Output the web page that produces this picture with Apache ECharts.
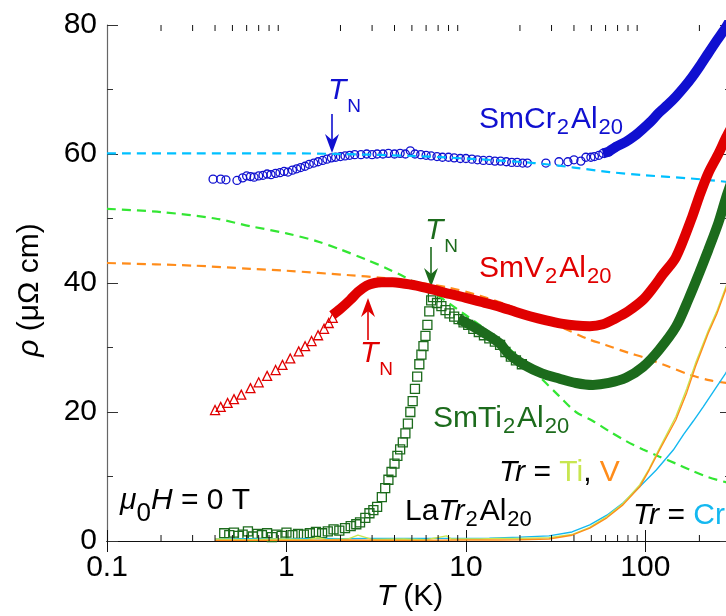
<!DOCTYPE html>
<html>
<head>
<meta charset="utf-8">
<script src="https://cdn.jsdelivr.net/npm/echarts@6/dist/echarts.min.js"></script>
<style>
  html, body { margin: 0; padding: 0; background: #fff; }
  #chart { width: 726px; height: 616px; }
</style>
</head>
<body>
<div id="chart"></div>
<script>
// ---- data (T in K, rho in µΩ cm) ----
const xMajorLabels = ['0.1', '1', '10', '100'];
const xMinorTicks = [0.2, 0.3, 0.4, 0.5, 0.6, 0.7, 0.8, 0.9, 2, 3, 4, 5, 6, 7, 8, 9,
  20, 30, 40, 50, 60, 70, 80, 90, 200];

// SmCr2Al20 (circles)
const crLowT = [0.39, 0.43, 0.46, 0.53, 0.57, 0.60, 0.63, 0.66, 0.70, 0.74, 0.78, 0.82, 0.87, 0.92, 0.97, 1.02,
  1.08, 1.14, 1.20, 1.27, 1.34, 1.42, 1.50, 1.59, 1.68, 1.78, 1.88, 2.0, 2.12, 2.25, 2.4, 2.6, 2.8, 3.0, 3.2,
  3.45, 3.7, 4.0, 4.3, 4.6, 4.9, 5.2, 5.6, 6.0, 6.4, 6.9, 7.4, 8.0, 8.6, 9.3, 10, 10.8, 11.6, 12.5, 13.5,
  14.5, 15.6, 16.8, 18, 19.3, 20.7, 22];
const crLowRho = [56.1, 56.1, 56.0, 55.9, 56.3, 56.6, 56.5, 56.4, 56.6, 56.7, 56.9, 56.8, 57.0, 57.1, 57.3, 57.2,
  57.5, 57.7, 57.9, 58.1, 58.4, 58.6, 58.8, 59.0, 59.2, 59.4, 59.5, 59.6, 59.7, 59.8, 59.9, 59.9, 60.0, 59.9, 60.0,
  60.0, 60.1, 60.0, 60.1, 60.0, 60.5, 60.0, 59.9, 59.8, 59.7, 59.6, 59.5, 59.5, 59.4, 59.3, 59.3, 59.2, 59.1, 59.0, 59.0,
  58.9, 58.9, 58.8, 58.7, 58.7, 58.6, 58.6];
const crMidT = [27.9, 33, 37, 40, 43.7, 46.6, 49.7, 52, 55.1, 58, 62.6, 68.5];
const crMidRho = [58.6, 58.8, 58.8, 59.1, 58.9, 59.5, 59.5, 59.6, 59.8, 60.1, 60.3, 61.1];
const crHighT = [58, 62.6, 68.5, 78, 88, 97, 108, 119, 133, 148, 165, 182, 202, 224, 250, 282, 300];
const crHighRho = [60.1, 60.4, 61.1, 61.9, 62.9, 63.9, 65.1, 66.4, 67.6, 68.9, 70.4, 71.9, 73.7, 75.6, 77.6, 79.7, 81.0];

// SmV2Al20 (triangles, then dense band)
const vLowT = [0.40, 0.43, 0.47, 0.51, 0.56, 0.63, 0.70, 0.78, 0.87, 0.95, 1.05, 1.17, 1.27, 1.38, 1.50, 1.62, 1.72, 1.81];
const vLowRho = [20.3, 20.8, 21.4, 22.0, 22.7, 23.7, 24.6, 25.6, 26.5, 27.3, 28.3, 29.4, 30.2, 31.0, 31.9, 32.9, 33.8, 34.6];
const vHighT = [1.8, 2.0, 2.27, 2.5, 2.8, 3.1, 3.4, 3.9, 4.3, 5.3, 6.5, 8.1, 10, 12.5, 15.5, 19, 23, 28, 34, 41, 49,
  58, 68, 80, 97, 110, 125, 148, 182, 200, 224, 255, 282, 300];
const vHighRho = [35.0, 36.0, 37.4, 38.6, 39.6, 40.0, 40.1, 40.1, 40.0, 39.6, 39.0, 38.3, 37.7, 37.0, 36.3, 35.5, 34.8,
  34.2, 33.7, 33.4, 33.3, 33.6, 34.5, 35.6, 37.4, 39.2, 41.3, 44.0, 50.2, 53.5, 57.0, 60.0, 62.6, 64.0];

// SmTi2Al20 (squares, then dense band)
const tiSqT = [0.45, 0.48, 0.51, 0.54, 0.57, 0.61, 0.65, 0.69, 0.73, 0.78, 0.83, 0.88, 0.94, 1.0, 1.08, 1.16, 1.25,
  1.35, 1.46, 1.58, 1.7, 1.83, 1.97, 2.12, 2.28, 2.45,
  2.57, 2.75, 2.9, 3.05, 3.2, 3.4, 3.55, 3.7, 3.85, 4.0, 4.15, 4.3, 4.45, 4.6, 4.75, 4.9, 5.05, 5.2, 5.35, 5.5,
  5.65, 5.8, 5.95, 6.1, 6.25, 6.4, 6.55,
  6.9, 7.3, 7.7, 8.1, 8.6, 9.1, 9.7, 10.3, 11, 11.8, 12.6, 13.5, 14.5, 15.5, 16.6, 17.8, 19, 20.5];
const tiSqRho = [1.2, 0.9, 1.3, 0.8, 1.0, 1.5, 0.7, 1.1, 0.9, 1.2, 0.6, 1.0, 0.8, 1.3, 0.9, 1.1, 1.0,
  1.2, 1.4, 1.2, 1.5, 1.8, 1.6, 2.0, 2.3, 2.6,
  2.9, 3.6, 4.3, 4.8, 5.3, 6.8, 8.2, 9.5, 10.7, 12.0, 13.2, 14.2, 15.3, 16.7, 18.2, 20.0, 21.7, 23.6, 25.5, 27.4,
  28.9, 30.2, 31.8, 33.5, 35.6, 37.3, 37.8,
  36.9, 36.4, 35.8, 35.3, 34.8, 34.4, 33.9, 33.5, 32.9, 32.4, 31.9, 31.4, 30.9, 30.4, 29.3, 28.6, 28.0, 27.4];
const tiBandT = [9.1, 10.1, 12.4, 15.5, 17.3, 21.5, 26.5, 33, 41, 51, 62.6, 78, 97, 119, 148, 174, 200, 224, 255, 282, 300];
const tiBandRho = [34.4, 33.8, 32.4, 30.6, 29.0, 27.2, 26.0, 25.2, 24.5, 24.2, 24.5, 25.3, 27.0, 29.6, 33.2,
  37.5, 41.6, 45.1, 49.3, 53.3, 55.5];

// LaTr2Al20 (thin lines)
const laCrT = [0.4, 0.6, 1, 1.5, 2, 3, 5, 8, 13.5, 20, 29, 39, 49, 61, 75, 93, 115, 143, 163, 185, 210, 245, 280, 300];
const laCrRho = [0.3, 0.35, 0.3, 0.4, 0.35, 0.4, 0.4, 0.4, 0.45, 0.6, 0.8, 1.4, 2.5, 4.0, 5.9, 8.4, 11.0, 14.1, 16.5,
  18.6, 20.8, 23.6, 26.0, 27.5];
const laVT = [0.4, 1, 2, 5, 10, 15, 20, 29, 39, 49, 61, 75, 93, 105, 121, 148, 170, 190, 224, 250, 280, 300];
const laVRho = [0.1, 0.1, 0.15, 0.1, 0.15, 0.15, 0.2, 0.3, 0.9, 2.0, 3.6, 5.6, 8.4, 11.0, 14.3, 18.8, 23.0, 27.0,
  32.2, 35.2, 38.9, 41.3];
const laTiT = [0.4, 0.6, 0.9, 1.3, 1.5, 1.7, 2.2, 2.5, 3, 4.5, 6, 7.8, 8.3, 9, 12, 15, 20, 29, 39, 49, 61, 75, 93,
  105, 121, 148, 170, 190, 224, 250, 280, 300];
const laTiRho = [0.3, 0.2, 0.3, 0.2, 0.5, 0.2, 0.3, 0.9, 0.25, 0.3, 0.2, 0.8, 0.3, 0.3, 0.3, 0.4, 0.4, 0.5, 1.0, 2.1,
  3.8, 5.8, 8.7, 11.2, 14.6, 19.3, 23.6, 27.5, 32.6, 35.6, 39.3, 41.6];

// dashed fits
const fitCrT = [0.1, 0.3, 1, 2, 5, 10, 24, 40, 63, 100, 180, 280, 300];
const fitCrRho = [60.1, 60.1, 60.1, 60.0, 59.7, 59.3, 58.6, 57.9, 57.2, 56.7, 56.2, 55.7, 55.6];
const fitTiT = [0.1, 0.2, 0.4, 0.63, 1, 1.47, 2, 2.8, 3.6, 4.5, 6.5, 10, 15.3, 25.6, 33, 41, 51, 63, 78, 97, 119,
  148, 182, 224, 282, 300];
const fitTiRho = [51.5, 51.0, 50.0, 48.8, 47.7, 46.5, 45.2, 43.6, 42.3, 41.0, 38.6, 35.0, 31.2, 25.5, 22.5, 20.0,
  18.6, 17.0, 15.5, 14.2, 13.1, 12.0, 10.9, 9.9, 9.1, 8.9];
const fitVT = [0.1, 0.3, 0.63, 1, 2.26, 3.4, 5, 8, 12, 17, 22, 29, 35, 47, 60, 80, 97, 130, 180, 230, 282, 300];
const fitVRho = [43.1, 42.7, 42.2, 41.9, 41.2, 40.8, 40.2, 39.3, 38.0, 36.6, 35.3, 33.8, 33.0, 31.4, 30.4, 29.2,
  28.5, 27.2, 25.7, 24.9, 24.5, 24.4];

// ---- styling ----
const FONT = '"Liberation Sans", Arial, Helvetica, sans-serif';
const BLUE = '#1010d0', RED = '#e00000', DGREEN = '#1c6b1c';
const LGREEN = '#33e633', ORANGE = '#ff8c1a', CYAN = '#14b8f0', CYANDASH = '#00c0ff', YGREEN = '#c8e650';

const zip = (a, b) => a.map((v, i) => [v, b[i]]);

const chart = echarts.init(document.getElementById('chart'));

function markers(data, symbol, size, color) {
  return {
    type: 'scatter', data, symbol, symbolSize: size, silent: true,
    itemStyle: { color: 'rgba(0,0,0,0)', borderColor: color, borderWidth: 1.3, opacity: 1 }
  };
}
function band(data, color, width) {
  return {
    type: 'line', data, showSymbol: false, smooth: 0.3, silent: true,
    lineStyle: { color, width }
  };
}
function thin(data, color) {
  return { type: 'line', data, showSymbol: false, silent: true, lineStyle: { color, width: 1.4 } };
}
function dashed(data, color) {
  return {
    type: 'line', data, showSymbol: false, smooth: 0.3, silent: true,
    lineStyle: { color, width: 2.2, type: [9, 6] }
  };
}

// rich text: subscripts are pushed down with top padding
function rich(color) {
  const b = { fontFamily: FONT, fontSize: 30, lineHeight: 30, fill: color };
  return {
    n: Object.assign({}, b),
    i: Object.assign({}, b, { fontStyle: 'italic' }),
    s: { fontFamily: FONT, fontSize: 22, lineHeight: 22, fill: color, padding: [16, 2, 0, 1] },
    s0: { fontFamily: FONT, fontSize: 26, lineHeight: 26, fill: color, padding: [26, 0, 0, 0] },
    sn: { fontFamily: FONT, fontSize: 19, lineHeight: 19, fill: color, padding: [32, 0, 0, 1] },
    ti: Object.assign({}, b, { fill: YGREEN }),
    v: Object.assign({}, b, { fill: ORANGE }),
    cr: Object.assign({}, b, { fill: CYAN })
  };
}
function label(x, y, text, color) {
  return {
    type: 'text', x, y, z: 100, silent: true,
    style: { text, rich: rich(color), fill: color, align: 'left', verticalAlign: 'top' }
  };
}
function arrow(x, tail, tip, color) {
  const d = tip > tail ? 1 : -1;
  return {
    type: 'group', z: 100, silent: true,
    children: [
      { type: 'line', shape: { x1: x, y1: tail, x2: x, y2: tip - d * 10 }, style: { stroke: color, lineWidth: 1.6 } },
      { type: 'polygon', shape: { points: [[x, tip], [x - 7, tip - d * 19], [x, tip - d * 13], [x + 7, tip - d * 19]] },
        style: { fill: color } }
    ]
  };
}

const axisCommon = {
  type: 'log', logBase: 10, min: 0.1, max: 300,
  axisLine: { lineStyle: { color: '#111', width: 1.2 } },
  axisTick: { inside: true, length: 11, lineStyle: { color: '#111' } },
  splitLine: { show: false }
};
const yCommon = {
  type: 'value', min: 0, max: 80, interval: 20,
  axisLine: { show: true, lineStyle: { color: '#666', width: 1.2 } },
  axisTick: { inside: true, length: 11, lineStyle: { color: '#333' } },
  minorTick: { show: true, splitNumber: 2, length: 6, lineStyle: { color: '#333' } },
  splitLine: { show: false }, minorSplitLine: { show: false }
};

chart.setOption({
  animation: false,
  backgroundColor: '#fff',
  grid: { left: 107, right: -5, top: 25, bottom: 75, outerBoundsMode: 'none' },
  xAxis: [
    Object.assign({}, axisCommon, {
      position: 'bottom',
      axisLabel: {
        fontFamily: FONT, fontSize: 30, color: '#000', margin: 12, showMaxLabel: false,
        formatter: v => {
          const e = Math.log10(v);
          const r = Math.round(e);
          return Math.abs(e - r) < 1e-6 ? xMajorLabels[r + 1] : '';
        }
      }
    }),
    Object.assign({}, axisCommon, { position: 'top', axisLabel: { show: false } })
  ],
  yAxis: [
    Object.assign({}, yCommon, {
      position: 'left',
      axisLabel: { fontFamily: FONT, fontSize: 30, color: '#000', margin: 10 }
    }),
    Object.assign({}, yCommon, { position: 'right', axisLabel: { show: false } })
  ],
  series: [
    dashed(zip(fitCrT, fitCrRho), CYANDASH),
    dashed(zip(fitTiT, fitTiRho), LGREEN),
    dashed(zip(fitVT, fitVRho), ORANGE),
    thin(zip(laCrT, laCrRho), CYAN),
    thin(zip(laTiT, laTiRho), YGREEN),
    thin(zip(laVT, laVRho), ORANGE),
    markers(zip(crLowT, crLowRho), 'circle', 8, BLUE),
    markers(zip(crMidT, crMidRho), 'circle', 8, BLUE),
    band(zip(crHighT, crHighRho), BLUE, 10),
    markers(zip(vLowT, vLowRho), 'triangle', 9, RED),
    band(zip(vHighT, vHighRho), RED, 10),
    band(zip(tiBandT, tiBandRho), DGREEN, 10),
    markers(zip(tiSqT, tiSqRho), 'rect', 9, DGREEN),
    {
      type: 'custom', silent: true, clip: false, z: 5,
      data: xMinorTicks.map(v => [v, 0]),
      renderItem: (params, api) => {
        const b = api.coord([api.value(0), 0]);
        const t = api.coord([api.value(0), 80]);
        return {
          type: 'group',
          children: [
            { type: 'line', shape: { x1: b[0], y1: b[1], x2: b[0], y2: b[1] - 6 }, style: { stroke: '#111', lineWidth: 1 } },
            { type: 'line', shape: { x1: t[0], y1: t[1], x2: t[0], y2: t[1] + 6 }, style: { stroke: '#111', lineWidth: 1 } }
          ]
        };
      }
    }
  ],
  graphic: [
    label(479, 105, '{n|SmCr}{s|2}{n|Al}{s|20}', BLUE),
    label(479, 254, '{n|SmV}{s|2}{n|Al}{s|20}', RED),
    label(433, 404, '{n|SmTi}{s|2}{n|Al}{s|20}', DGREEN),
    label(405, 497, '{n|La}{i|Tr}{s|2}{n|Al}{s|20}', '#000'),
    label(499, 458, '{i|Tr}{n| = }{ti|Ti}{n|, }{v|V}', '#000'),
    label(633, 501, '{i|Tr}{n| = }{cr|Cr}', '#000'),
    label(120, 486, '{i|μ}{s0|0}{i|H}{n| = 0 T}', '#000'),
    label(328, 76, '{i|T}{sn|N}', BLUE),
    label(425, 216, '{i|T}{sn|N}', DGREEN),
    label(360, 339, '{i|T}{sn|N}', RED),
    arrow(332, 114, 153, BLUE),
    arrow(431, 247, 287, DGREEN),
    arrow(368, 340, 298, RED),
    {
      type: 'text', x: 410, y: 597, z: 100, silent: true,
      style: {
        text: '{i|T}{n| (K)}', align: 'center', verticalAlign: 'middle',
        rich: { i: { fontFamily: FONT, fontSize: 30, fontStyle: 'italic', fill: '#000' }, n: { fontFamily: FONT, fontSize: 30, fill: '#000' } }
      }
    },
    {
      type: 'text', x: 30, y: 290, rotation: Math.PI / 2, z: 100, silent: true,
      style: {
        text: '{i|ρ}{n| (μΩ cm)}', align: 'center', verticalAlign: 'middle',
        rich: { i: { fontFamily: FONT, fontSize: 30, fontStyle: 'italic', fill: '#000' }, n: { fontFamily: FONT, fontSize: 30, fill: '#000' } }
      }
    }
  ]
});
</script>
</body>
</html>
